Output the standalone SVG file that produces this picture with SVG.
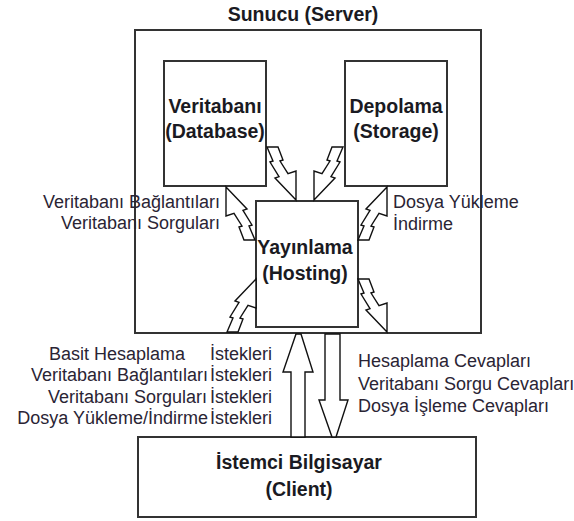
<svg xmlns="http://www.w3.org/2000/svg" xmlns:xlink="http://www.w3.org/1999/xlink" width="574" height="521" viewBox="0 0 574 521">
  <style>
    .box { fill: #ffffff; stroke: #333333; stroke-width: 2; }
    .arrow { fill: #ffffff; stroke: #111111; stroke-width: 1.4; stroke-linejoin: miter; }
    .title { font-family: "Liberation Sans", Arial, sans-serif; font-weight: bold; font-size: 19.5px; fill: #1a1a22; text-anchor: middle; }
    .label { font-family: "Liberation Sans", Arial, sans-serif; font-size: 18px; fill: #2a2434; }
    .end { text-anchor: end; }
  </style>
  <defs>
    <!-- zigzag arrow, base at (0,0)-(11,0), tip pointing down-right -->
    <polygon id="zig" points="0,0 11,0 16,13 13,14 21,26.7 29,24 29,53 8,31 12,29.7 3,15 6,14"/>
  </defs>

  <g id="server">
    <rect class="box" x="135" y="30" width="346" height="303"/>
    <text class="title" x="303" y="21">Sunucu (Server)</text>
  </g>

  <g id="database">
    <rect class="box" x="164" y="61" width="102" height="125"/>
    <text class="title" x="215" y="113">Veritabanı</text>
    <text class="title" x="215" y="138">(Database)</text>
  </g>

  <g id="storage">
    <rect class="box" x="345" y="61" width="102" height="125"/>
    <text class="title" x="396" y="113">Depolama</text>
    <text class="title" x="396" y="138">(Storage)</text>
  </g>

  <g id="hosting">
    <rect class="box" x="256" y="201" width="102" height="126"/>
    <text class="title" x="305" y="254">Yayınlama</text>
    <text class="title" x="305" y="280">(Hosting)</text>
  </g>

  <g id="client">
    <rect class="box" x="138" y="437" width="338" height="80"/>
    <text class="title" x="299" y="469">İstemci Bilgisayar</text>
    <text class="title" x="299" y="496">(Client)</text>
  </g>

  <g id="connectors">
    <!-- database / storage to hosting -->
    <use class="arrow" xlink:href="#zig" href="#zig" transform="translate(267,147)"/>
    <use class="arrow" xlink:href="#zig" href="#zig" transform="translate(343,147) scale(-1,1)"/>
    <!-- hosting back to database / storage -->
    <use class="arrow" xlink:href="#zig" href="#zig" transform="translate(255,240) rotate(180)"/>
    <use class="arrow" xlink:href="#zig" href="#zig" transform="translate(358,240) scale(1,-1)"/>
    <!-- hosting and server edge -->
    <use class="arrow" xlink:href="#zig" href="#zig" transform="translate(227,332) scale(1,-1)"/>
    <use class="arrow" xlink:href="#zig" href="#zig" transform="translate(358,279)"/>
    <!-- client requests / responses -->
    <polygon class="arrow" points="291,437 291,372 283,372 296,334 301,334 313,372 305,372 305,437"/>
    <polygon class="arrow" points="325,334 340,334 340,400 348,400 336,437 332,437 319,400 325,400"/>
  </g>

  <g id="labels">
    <text class="label end" x="220" y="208">Veritabanı Bağlantıları</text>
    <text class="label end" x="220" y="229">Veritabanı Sorguları</text>
    <text class="label" x="393" y="208">Dosya Yükleme</text>
    <text class="label" x="393" y="230">İndirme</text>

    <text class="label end" x="185" y="360">Basit Hesaplama</text>
    <text class="label end" x="272" y="360">İstekleri</text>
    <text class="label end" x="208" y="381">Veritabanı Bağlantıları</text>
    <text class="label end" x="272" y="381">İstekleri</text>
    <text class="label end" x="207" y="403">Veritabanı Sorguları</text>
    <text class="label end" x="272" y="403">İstekleri</text>
    <text class="label end" x="208" y="424">Dosya Yükleme/İndirme</text>
    <text class="label end" x="272" y="424">İstekleri</text>

    <text class="label" x="358" y="367">Hesaplama Cevapları</text>
    <text class="label" x="358" y="390">Veritabanı Sorgu Cevapları</text>
    <text class="label" x="358" y="412">Dosya İşleme Cevapları</text>
  </g>
</svg>
